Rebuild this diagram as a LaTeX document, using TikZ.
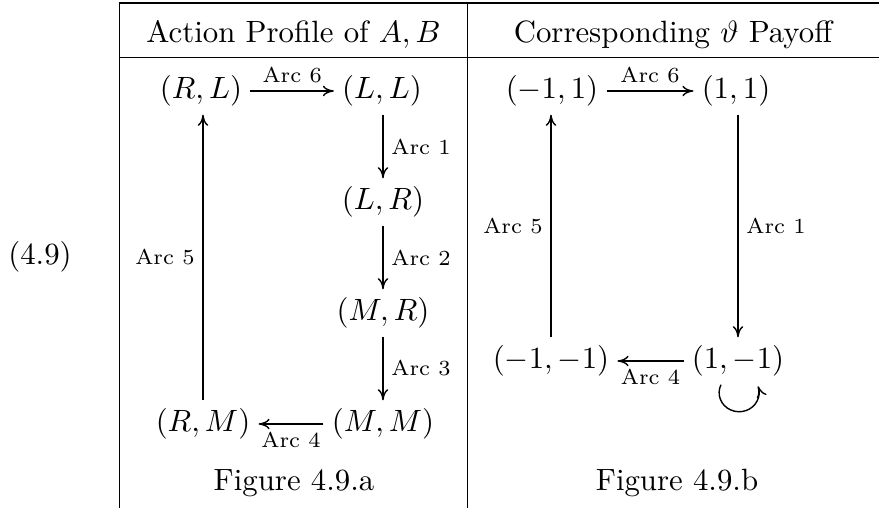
\documentclass[tikz,border=0pt]{standalone}
\usetikzlibrary{arrows.meta}
\begin{document}
\begin{tikzpicture}[x=0.3247pt,y=0.3247pt,
  st/.style={inner sep=2.5pt},
  lbl/.style={font=\scriptsize, inner sep=2.5pt},
  arr/.style={-{To[length=3.6pt,width=3.4pt]}, line width=0.45pt},
  rulel/.style={line width=0.45pt}]
\useasboundingbox (0,0) rectangle (879,-508);
% table rules
\draw[rulel] (119.3,-3) -- (879,-3);
\draw[rulel] (119.3,-57.7) -- (879,-57.7);
\draw[rulel] (119.3,-3) -- (119.3,-508);
\draw[rulel] (467.7,-3) -- (467.7,-508);
% headers
\node[anchor=base] (h1) at (293.5,-42.5) {Action Profile of $A, B$};
\node[anchor=base] (h2) at (673,-42.5) {Corresponding $\vartheta$ Payoff};
\node (eq) at (40,-257) {(4.9)};
% left diagram
\node[st] (rl) at (201,-91) {$(R,L)$};
\node[st] (ll) at (382,-91) {$(L,L)$};
\node[st] (lr) at (383,-202) {$(L,R)$};
\node[st] (mr) at (383,-313) {$(M,R)$};
\node[st] (mm) at (383,-424) {$(M,M)$};
\node[st] (rm) at (203,-424) {$(R,M)$};
\node[anchor=base] (fa) at (294,-491) {Figure 4.9.a};
\draw[arr] (rl) -- node[lbl,above]{Arc 6} (ll);
\draw[arr] (lr.north |- ll.south) -- node[lbl,right]{Arc 1} (lr.north);
\draw[arr] (lr.south) -- node[lbl,right]{Arc 2} (mr.north);
\draw[arr] (mr.south) -- node[lbl,right]{Arc 3} (mm.north);
\draw[arr] (mm) -- node[lbl,below]{Arc 4} (rm);
\draw[arr] (rm.north) -- node[lbl,left]{Arc 5} (rm.north |- rl.south);
% right diagram
\node[st] (a1) at (552,-91) {$(-1,1)$};
\node[st] (b1) at (736,-91) {$(1,1)$};
\node[st] (b2) at (738,-361) {$(1,-1)$};
\node[st] (a2) at (551,-361) {$(-1,-1)$};
\node[anchor=base] (fb) at (677,-491) {Figure 4.9.b};
\draw[arr] (a1) -- node[lbl,above]{Arc 6} (b1);
\draw[arr] (b2.north |- b1.south) -- node[lbl,right]{Arc 1} (b2.north);
\draw[arr] (b2) -- node[lbl,below]{Arc 4} (a2);
\draw[arr] (a2.north) -- node[lbl,left]{Arc 5} (a2.north |- a1.south);
\draw[arr] (b2.south) ++(-17,0) arc[start angle=155, end angle=380, x radius=20, y radius=19];
\end{tikzpicture}
\end{document}
